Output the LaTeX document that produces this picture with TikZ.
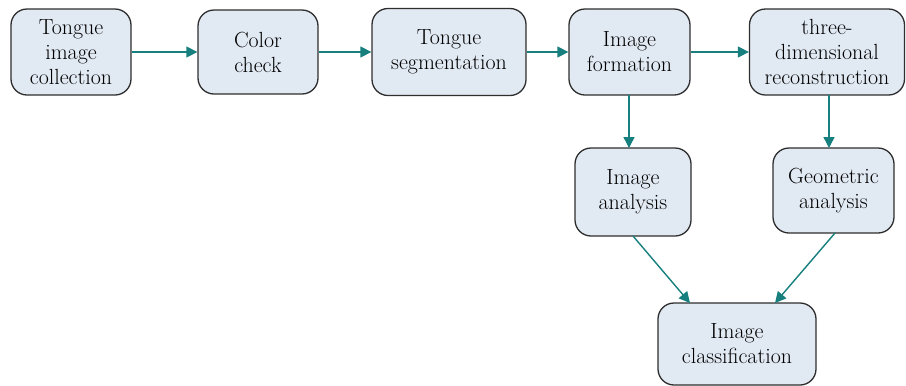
\documentclass[tikz,border=0pt]{standalone}
\usepackage{fontspec}
\usetikzlibrary{arrows.meta}
\definecolor{boxfill}{HTML}{E1E9F3}
\definecolor{boxline}{HTML}{2E2E2E}
\definecolor{teal}{HTML}{17807E}
\begin{document}
\begin{tikzpicture}[x=1bp,y=-1bp,
  box/.style={draw=boxline,fill=boxfill,line width=1.3bp,rounded corners=16bp,
    align=center,inner sep=0pt,font=\fontsize{22}{25}\selectfont,text=black},
  conn/.style={draw=teal,line width=1.4bp,-{Triangle[length=11bp,width=11bp]}}]
\useasboundingbox (0,0) rectangle (906,385);
\node[box,minimum width=120bp,minimum height=86bp] (A) at (71,52) {Tongue\\image\\collection};
\node[box,minimum width=120bp,minimum height=84bp] (B) at (258,52) {Color\\check};
\node[box,minimum width=154bp,minimum height=87bp] (C) at (449,52) {Tongue\\segmentation};
\node[box,minimum width=121bp,minimum height=86bp] (D) at (629.5,52) {Image\\formation};
\node[box,minimum width=155bp,minimum height=86bp] (E) at (827,52) {three-\\dimensional\\reconstruction};
\node[box,minimum width=116bp,minimum height=88bp] (F) at (633,192) {Image\\analysis};
\node[box,minimum width=121bp,minimum height=85bp] (G) at (833.5,190.5) {Geometric\\analysis};
\node[box,minimum width=158bp,minimum height=82bp] (H) at (737,344) {Image\\classification};
\coordinate (d1) at (629,95);
\coordinate (d2) at (629,148);
\coordinate (e1) at (829,95);
\coordinate (e2) at (829,148);
\coordinate (f1) at (633,236);
\coordinate (h1) at (690,303);
\coordinate (g1) at (835,233);
\coordinate (h2) at (775,303);
\draw[conn] (A) -- (B);
\draw[conn] (B) -- (C);
\draw[conn] (C) -- (D);
\draw[conn] (D) -- (E);
\draw[conn] (d1) -- (d2);
\draw[conn] (e1) -- (e2);
\draw[conn] (f1) -- (h1);
\draw[conn] (g1) -- (h2);
\end{tikzpicture}
\end{document}
